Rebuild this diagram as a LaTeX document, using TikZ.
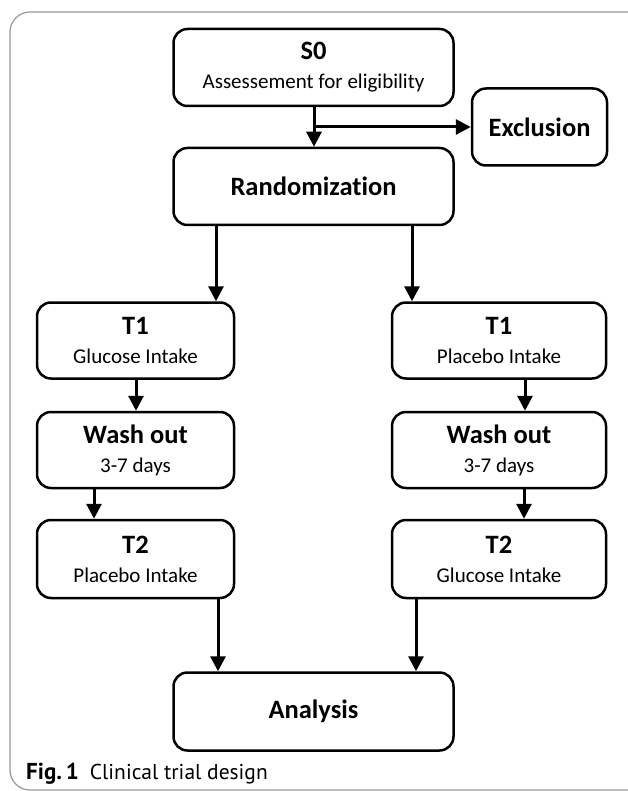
\documentclass[tikz,border=0pt]{standalone}
\usepackage{fontspec}
\setmainfont{Carlito}[Ligatures=NoCommon]
\newfontfamily\capfont{PT Sans}
\usetikzlibrary{arrows.meta,calc}
\newcommand{\ttlline}[1]{{\fontsize{26.5}{29}\selectfont\bfseries #1}}
\begin{document}
\begin{tikzpicture}[x=1pt,y=-1pt,
  box/.style={draw=black,line width=2.5pt,rounded corners=14pt,align=center,inner sep=0pt,
    font=\fontsize{21}{29}\selectfont},
  onebox/.style={box,font=\fontsize{26.5}{29}\selectfont\bfseries},
  arr/.style={line width=3pt,-{Triangle[width=15pt,length=15pt]}},
]
\useasboundingbox (0,0) rectangle (627,791);
\draw[gray!85!black!70,line width=1.2pt,rounded corners=20pt] (10,12) rectangle (660,790);
\node[box,minimum width=280pt,minimum height=77pt] (s0) at (313.5,67.5)
  {\ttlline{S0}\\Assessement for eligibility};
\node[onebox,minimum width=135pt,minimum height=77pt] (exc) at (539.5,127) {Exclusion};
\node[onebox,minimum width=280pt,minimum height=77pt] (rand) at (313.5,186.5) {Randomization};
\node[box,minimum width=197pt,minimum height=76pt] (t1l) at (135.5,340.5)
  {\ttlline{T1}\\Glucose Intake};
\node[box,minimum width=214pt,minimum height=76pt] (t1r) at (499,340.5)
  {\ttlline{T1}\\Placebo Intake};
\node[box,minimum width=197pt,minimum height=76pt] (wl) at (135.5,450)
  {\ttlline{Wash out}\\3-7 days};
\node[box,minimum width=214pt,minimum height=76pt] (wr) at (499,450)
  {\ttlline{Wash out}\\3-7 days};
\node[box,minimum width=197pt,minimum height=78pt] (t2l) at (135.5,559)
  {\ttlline{T2}\\Placebo Intake};
\node[box,minimum width=214pt,minimum height=78pt] (t2r) at (499,559)
  {\ttlline{T2}\\Glucose Intake};
\node[onebox,minimum width=280pt,minimum height=78pt] (ana) at (313.5,711.5) {Analysis};
\node[anchor=base west,inner sep=0pt,font=\capfont\fontsize{21.5}{24}\selectfont] (cap) at (26,779) {\textbf{\fontsize{23}{24}\selectfont Fig.\,1}\hspace{11pt}Clinical trial design};
% connector x positions
\coordinate (xs) at (314,0);
\coordinate (xa) at (216,0);
\coordinate (xb) at (412,0);
\coordinate (xc) at (136,0);
\coordinate (xd) at (525,0);
\coordinate (xe) at (94,0);
\coordinate (xf) at (524,0);
\coordinate (xg) at (218,0);
\coordinate (xh) at (416,0);
\coordinate (br) at (314,127);
\draw[arr] (s0.south -| xs) -- (rand.north -| xs);
\draw[arr] (br) -- (exc.west);
\draw[arr] (rand.south -| xa) -- (t1l.north -| xa);
\draw[arr] (rand.south -| xb) -- (t1r.north -| xb);
\draw[arr] (t1l.south -| xc) -- (wl.north -| xc);
\draw[arr] (t1r.south -| xd) -- (wr.north -| xd);
\draw[arr] (wl.south -| xe) -- (t2l.north -| xe);
\draw[arr] (wr.south -| xf) -- (t2r.north -| xf);
\draw[arr] (t2l.south -| xg) -- (ana.north -| xg);
\draw[arr] (t2r.south -| xh) -- (ana.north -| xh);
\end{tikzpicture}
\end{document}
